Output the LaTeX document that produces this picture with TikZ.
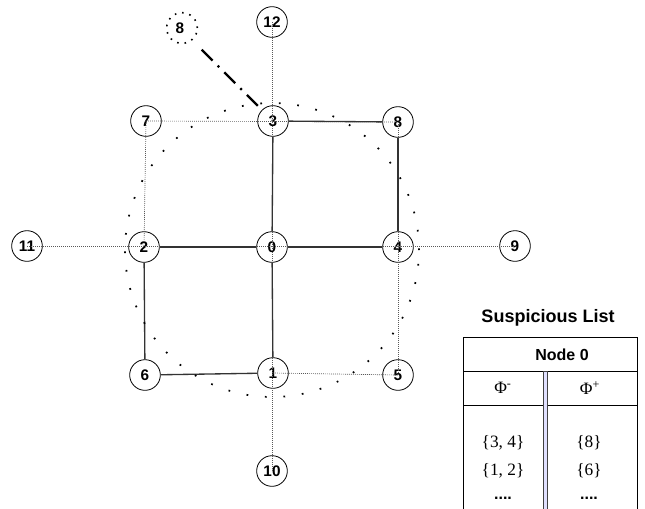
\documentclass[tikz,border=0pt]{standalone}
\usepackage{fontspec}
\setmainfont{Liberation Sans}
\newfontfamily\serifset{Liberation Serif}
\begin{document}
\begin{tikzpicture}[x=0.75pt,y=-0.75pt,
  vnode/.style={circle,draw,line width=0.6pt,minimum size=23pt,inner sep=0pt,font=\bfseries\fontsize{11.5}{13}\selectfont},
  ghost/.style={circle,minimum size=16pt,inner sep=0pt,font=\bfseries\fontsize{11.5}{13}\selectfont},
  link/.style={line width=1pt,black!80},
  gridline/.style={line width=0.5pt,black!65,dash pattern=on 0.6pt off 0.9pt},
  bigring/.style={line width=1.3pt,dash pattern=on 1.3pt off 12.6pt},
  smallring/.style={line width=1.2pt,dash pattern=on 1.2pt off 4.4pt},
  dashdot/.style={line width=1.8pt,dash pattern=on 11.5pt off 5.5pt on 1.5pt off 5.5pt},
  tabline/.style={line width=0.6pt,black},
  txt/.style={inner sep=0pt,font=\serifset\fontsize{13}{15}\selectfont}]
\useasboundingbox (0,0) rectangle (645,508);

% nodes
\node[vnode] (n12) at (272,22) {12};
\node[vnode] (n7)  at (146,121) {7};
\node[vnode] (n3)  at (273,121) {3};
\node[vnode] (n8)  at (398,122) {8};
\node[vnode] (n11) at (27,246) {11};
\node[vnode] (n2)  at (144,247) {2};
\node[vnode] (n0)  at (272,247) {0};
\node[vnode] (n4)  at (398,247) {4};
\node[vnode] (n9)  at (515,246) {9};
\node[vnode] (n6)  at (145,375) {6};
\node[vnode] (n1)  at (273,373) {1};
\node[vnode] (n5)  at (398,375) {5};
\node[vnode] (n10) at (272,471) {10};
\node[ghost] (g8)  at (180,28) {8};
\coordinate (ringc) at (272,250);

% dotted grid lines through centres
\draw[gridline] (n7.center) -- (n8.center);
\draw[gridline] (n11.center) -- (n9.center);
\draw[gridline] (n12.center) -- (n10.center);
\draw[gridline] (n7.center) -- (n2.center);
\draw[gridline] (n8.center) -- (n5.center);
\draw[gridline] (n1.center) -- (n5.center);

% solid links
\draw[link] (n3) -- (n0);
\draw[link] (n0) -- (n1);
\draw[link] (n2) -- (n0);
\draw[link] (n0) -- (n4);
\draw[link] (n3) -- (n8);
\draw[link] (n8) -- (n4);
\draw[link] (n2) -- (n6);
\draw[link] (n6) -- (n1);

% dotted rings
\draw[bigring] (ringc) circle[radius=110.25pt];
\draw[smallring] ([xshift=1.5pt]g8.center) circle[radius=11.5pt];

% dash-dot link
\draw[dashdot,shorten <=23pt] (g8.center) -- (n3);

% table
\node[inner sep=0pt,font=\bfseries\fontsize{13.5}{16}\selectfont] (title) at (548,318) {Suspicious List};
\draw[tabline] (463,510) -- (463,337) -- (637,337) -- (637,510);
\draw[tabline] (463,371) -- (637,371);
\draw[tabline] (463,405) -- (637,405);
\filldraw[fill=blue!12,draw=black!75,line width=0.5pt] (543.5,371) rectangle (547.5,510);
\node[inner sep=0pt,font=\bfseries\fontsize{12}{14}\selectfont] (hdr) at (562,355) {Node 0};
\node[txt] (phim) at (503,388) {Φ\textsuperscript{-}};
\node[txt] (phip) at (590,388) {Φ\textsuperscript{+}};
\node[txt] (a1) at (503,443) {\{3, 4\}};
\node[txt] (b1) at (589,443) {\{8\}};
\node[txt] (a2) at (503,471) {\{1, 2\}};
\node[txt] (b2) at (589,471) {\{6\}};
\node[inner sep=0pt,font=\bfseries\fontsize{12}{14}\selectfont,anchor=base] (a3) at (503,499) {....};
\node[inner sep=0pt,font=\bfseries\fontsize{12}{14}\selectfont,anchor=base] (b3) at (589,499) {....};
\end{tikzpicture}
\end{document}
